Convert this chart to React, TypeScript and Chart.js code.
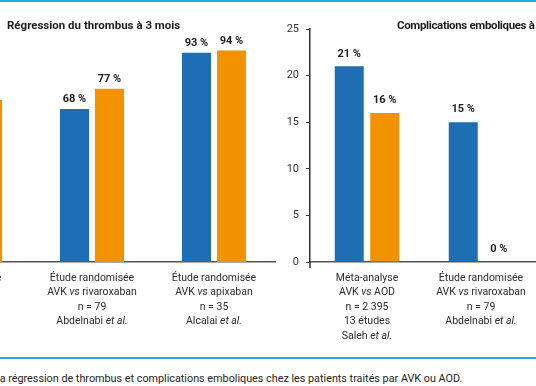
import React, { useEffect, useRef } from "react";
import { Chart, registerables } from "chart.js";

Chart.register(...registerables);

// ---------- data ----------
const leftTitle = "Régression du thrombus à 3 mois";
const rightTitle = "Complications emboliques à 3 mois";
const caption =
  "la régression de thrombus et complications emboliques chez les patients traités par AVK ou AOD.";

const leftCategories = [
  ["Méta-analyse", "AVK *vs* AOD", "n = 2 395", "13 études", "Saleh *et al.*"],
  ["Étude randomisée", "AVK *vs* rivaroxaban", "n = 79", "Abdelnabi *et al.*"],
  ["Étude randomisée", "AVK *vs* apixaban", "n = 35", "Alcalai *et al.*"],
];
const leftAVK: (number | null)[] = [null, 68, 93];
const leftAOD: (number | null)[] = [72, 77, 94];

const rightCategories = [
  ["Méta-analyse", "AVK *vs* AOD", "n = 2 395", "13 études", "Saleh *et al.*"],
  ["Étude randomisée", "AVK *vs* rivaroxaban", "n = 79", "Abdelnabi *et al.*"],
];
const rightAVK: (number | null)[] = [21, 15];
const rightAOD: (number | null)[] = [16, 0];
const rightTicks = [0, 5, 10, 15, 20, 25];

// ---------- styles ----------
const BLUE = "#1e6eb5";
const ORANGE = "#f39200";
const LINE_BLUE = "#2aa9e0";
const FONT = "Roboto";

function makeValueLabels(offset: number) {
  return {
    id: "valueLabels",
    afterDatasetsDraw(chart: any) {
      const ctx = chart.ctx;
      ctx.save();
      ctx.font = `bold 11px ${FONT}`;
      ctx.fillStyle = "#1d1d1b";
      ctx.textAlign = "center";
      ctx.textBaseline = "middle";
      chart.data.datasets.forEach((ds: any, di: number) => {
        const meta = chart.getDatasetMeta(di);
        meta.data.forEach((el: any, i: number) => {
          const v = ds.data[i];
          if (v == null) return;
          ctx.fillText(`${v} %`, el.x, el.y - offset);
        });
      });
      ctx.restore();
    },
  };
}

function parseSegments(line: string) {
  const parts = line.split("*");
  return parts.map((t, i) => ({ text: t, italic: i % 2 === 1 })).filter((s) => s.text.length);
}

const categoryLabels = {
  id: "categoryLabels",
  afterDraw(chart: any) {
    const ctx = chart.ctx;
    const xs = chart.scales.x;
    const base = chart.chartArea.bottom;
    ctx.save();
    ctx.fillStyle = "#2b2b2b";
    ctx.textBaseline = "middle";
    ctx.textAlign = "left";
    (chart.data.labels as string[][]).forEach((lines, i) => {
      const cx = xs.getPixelForValue(i);
      lines.forEach((line, li) => {
        const segs = parseSegments(line);
        let total = 0;
        const widths = segs.map((s) => {
          ctx.font = `${s.italic ? "italic " : ""}10.5px ${FONT}`;
          const w = ctx.measureText(s.text).width;
          total += w;
          return w;
        });
        let x = cx - total / 2;
        const y = base + 16 + li * 14.5;
        segs.forEach((s, si) => {
          ctx.font = `${s.italic ? "italic " : ""}10.5px ${FONT}`;
          ctx.fillText(s.text, x, y);
          x += widths[si];
        });
      });
    });
    ctx.restore();
  },
};

const axisExtension = {
  id: "axisExtension",
  afterDraw(chart: any) {
    const ctx = chart.ctx;
    const { left, bottom } = chart.chartArea;
    ctx.save();
    ctx.strokeStyle = "#333";
    ctx.lineWidth = 1.5;
    ctx.beginPath();
    ctx.moveTo(left, bottom);
    ctx.lineTo(left, bottom + 6);
    ctx.stroke();
    ctx.restore();
  },
};

function LeftChart() {
  const ref = useRef<HTMLCanvasElement>(null);
  useEffect(() => {
    const chart = new Chart(ref.current!, {
      type: "bar",
      data: {
        labels: leftCategories as any,
        datasets: [
          { label: "AVK", data: leftAVK, backgroundColor: BLUE },
          { label: "AOD", data: leftAOD, backgroundColor: ORANGE },
        ],
      },
      options: {
        responsive: false,
        animation: false,
        devicePixelRatio: 1,
        layout: { padding: { left: 9, right: 5, top: 37, bottom: 88 } },
        plugins: { legend: { display: false }, tooltip: { enabled: false } },
        datasets: { bar: { categoryPercentage: 0.574, barPercentage: 0.83 } },
        scales: {
          x: {
            display: true,
            ticks: { display: false },
            grid: { display: false, drawTicks: false },
            border: { display: true, color: "#555", width: 1.5 },
          },
          y: { display: false, min: 0, max: 100 },
        },
      } as any,
      plugins: [makeValueLabels(9.5), categoryLabels],
    });
    return () => chart.destroy();
  }, []);
  return (
    <canvas
      ref={ref}
      width={380}
      height={350}
      style={{ position: "absolute", left: -100, top: 0, width: 380, height: 350 }}
    />
  );
}

function RightChart() {
  const ref = useRef<HTMLCanvasElement>(null);
  useEffect(() => {
    const chart = new Chart(ref.current!, {
      type: "bar",
      data: {
        labels: rightCategories as any,
        datasets: [
          { label: "AVK", data: rightAVK, backgroundColor: BLUE },
          { label: "AOD", data: rightAOD, backgroundColor: ORANGE },
        ],
      },
      options: {
        responsive: false,
        animation: false,
        devicePixelRatio: 1,
        layout: { padding: { left: 0, right: 12, top: 29, bottom: 88 } },
        plugins: { legend: { display: false }, tooltip: { enabled: false } },
        datasets: { bar: { categoryPercentage: 0.623, barPercentage: 0.817 } },
        scales: {
          x: {
            display: true,
            ticks: { display: false },
            grid: { display: false, drawTicks: false },
            border: { display: true, color: "#555", width: 1.5 },
          },
          y: {
            min: 0,
            max: 25,
            afterFit: (s: any) => {
              s.width = 40;
            },
            afterBuildTicks: (s: any) => {
              s.ticks = rightTicks.map((v) => ({ value: v }));
            },
            ticks: {
              color: "#333",
              font: { family: FONT, size: 11 },
              padding: 7,
            },
            grid: {
              display: true,
              drawOnChartArea: false,
              drawTicks: true,
              tickLength: 4,
              color: "#333",
              lineWidth: 1,
            },
            border: { display: true, color: "#333", width: 1.5 },
          },
        },
      } as any,
      plugins: [makeValueLabels(12.5), categoryLabels, axisExtension],
    });
    return () => chart.destroy();
  }, []);
  return (
    <canvas
      ref={ref}
      width={280}
      height={350}
      style={{ position: "absolute", left: 270, top: 0, width: 280, height: 350 }}
    />
  );
}

export default function App() {
  const titleStyle: React.CSSProperties = {
    position: "absolute",
    top: 18,
    fontFamily: FONT,
    fontWeight: 700,
    fontSize: 11.5,
    lineHeight: "14px",
    color: "#1d1d1b",
    whiteSpace: "nowrap",
  };
  return (
    <div
      style={{
        position: "fixed",
        left: 0,
        top: 0,
        width: 536,
        height: 386,
        overflow: "hidden",
        background: "#fff",
      }}
    >
      <div style={{ position: "absolute", left: 0, top: 0, width: 536, height: 2, background: LINE_BLUE }} />
      <LeftChart />
      <RightChart />
      <div style={{ ...titleStyle, left: 7 }}>{leftTitle}</div>
      <div style={{ ...titleStyle, left: 397, letterSpacing: "-0.35px" }}>{rightTitle}</div>
      <div style={{ position: "absolute", left: 0, top: 357, width: 536, height: 2, background: LINE_BLUE }} />
      <div
        style={{
          position: "absolute",
          left: -3,
          top: 372,
          fontFamily: FONT,
          fontSize: 10.8,
          lineHeight: "14px",
          color: "#1d1d1b",
          whiteSpace: "nowrap",
        }}
      >
        {caption}
      </div>
    </div>
  );
}
